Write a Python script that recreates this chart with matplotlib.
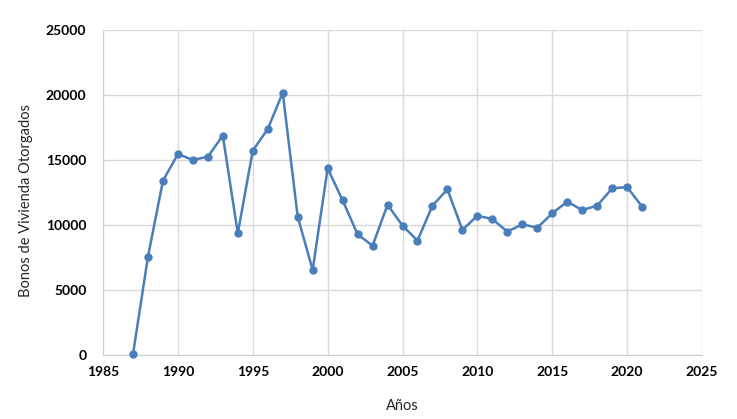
import matplotlib
matplotlib.use("Agg")
import matplotlib.pyplot as plt

years = list(range(1987, 2022))
bonos = [50, 7560, 13400, 15460, 15000, 15260, 16870, 9360, 15720, 17380,
         20180, 10640, 6540, 14360, 11900, 9280, 8410, 11560, 9950, 8800,
         11490, 12740, 9620, 10720, 10460, 9490, 10050, 9790, 10900, 11800,
         11150, 11490, 12820, 12920, 11410]
x_ticks = [1985, 1990, 1995, 2000, 2005, 2010, 2015, 2020, 2025]
y_ticks = [0, 5000, 10000, 15000, 20000, 25000]

plt.rcParams['font.family'] = ['Lato', 'DejaVu Sans']

fig = plt.figure(figsize=(7.37, 4.19), dpi=100)
ax = fig.add_axes([0.1398, 0.1527, 0.9525 - 0.1398, 0.9284 - 0.1527])

ax.plot(years, bonos, color='#4a7ebb', linewidth=1.8, marker='o',
        markersize=5, zorder=3, clip_on=False)

ax.set_xlim(1985, 2025)
ax.set_ylim(0, 25000)
ax.set_xticks(x_ticks)
ax.set_yticks(y_ticks)
ax.set_xticklabels([str(t) for t in x_ticks], fontweight='bold', fontsize=10)
ax.set_yticklabels([str(t) for t in y_ticks], fontweight='bold', fontsize=10)
ax.tick_params(axis='both', length=0, pad=8, colors='#000000')
ax.tick_params(axis='y', pad=12)

ax.grid(True, color='#d9d9d9', linewidth=1.0)
ax.set_axisbelow(True)
for s in ['top', 'right']:
    ax.spines[s].set_visible(False)
ax.spines['left'].set_color('#d0d0d0')
ax.spines['bottom'].set_color('#d0d0d0')

ax.set_xlabel('Años', fontsize=10.5, labelpad=15, color='#262626')
ax.set_ylabel('Bonos de Vivienda Otorgados', fontsize=10.5, color='#262626')
ax.yaxis.set_label_coords(-0.117, 0.474)

fig.savefig('out.png', dpi=100)
